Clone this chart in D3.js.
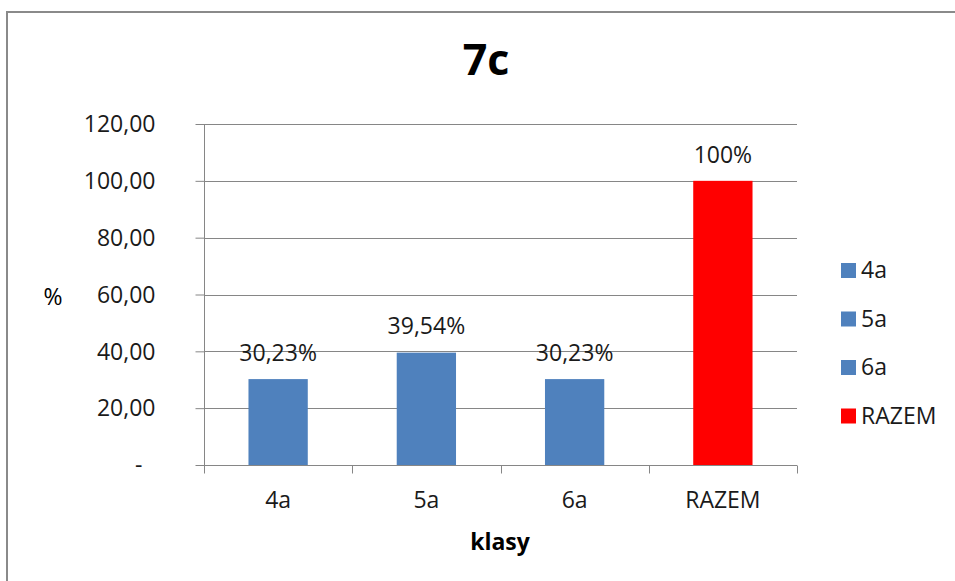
<!DOCTYPE html>
<html>
<head>
<meta charset="utf-8">
<script src="https://cdn.jsdelivr.net/npm/d3@7"></script>
<style>
  html, body { margin: 0; padding: 0; background: #fff; }
  svg { display: block; font-family: "Open Sans", "Noto Sans", sans-serif; }
</style>
</head>
<body>
<svg id="chart" width="955" height="581"></svg>
<script>
// Share of pupils per class, with the total
const categories = ["4a", "5a", "6a", "RAZEM"];
const values = [30.23, 39.54, 30.23, 100];
const valueLabels = ["30,23%", "39,54%", "30,23%", "100%"];
const yTicks = [0, 20, 40, 60, 80, 100, 120];
const legendItems = ["4a", "5a", "6a", "RAZEM"];
const colors = ["#4F81BD", "#4F81BD", "#4F81BD", "#FF0000"];

const svg = d3.select("#chart");
const fs = 23;

// outer frame (open on the right and bottom)
svg.append("path")
  .attr("d", "M7,581 V12 H955")
  .attr("fill", "none")
  .attr("stroke", "#8a8a8a")
  .attr("stroke-width", 2);

const margin = { left: 204, right: 797, top: 124, bottom: 465 };

const x = d3.scaleBand()
  .domain(categories)
  .range([margin.left, margin.right])
  .paddingInner(0.6)
  .paddingOuter(0.3);

const xOuter = d3.scaleBand()
  .domain(categories)
  .range([margin.left, margin.right]);

const y = d3.scaleLinear()
  .domain([0, 120])
  .range([margin.bottom, margin.top]);

const gridColor = "#868686";

// horizontal gridlines
svg.append("g")
  .selectAll("line")
  .data(yTicks.filter(d => d > 0))
  .join("line")
  .attr("x1", margin.left)
  .attr("x2", margin.right)
  .attr("y1", d => Math.round(y(d)) + 0.5)
  .attr("y2", d => Math.round(y(d)) + 0.5)
  .attr("stroke", gridColor)
  .attr("stroke-width", 1);

// y axis
const fmt = d => d === 0 ? "-" : d3.format(".2f")(d).replace(".", ",");
const yAxis = svg.append("g")
  .attr("transform", `translate(${margin.left + 0.5},0)`)
  .call(d3.axisLeft(y).tickValues(yTicks).tickSize(9).tickPadding(40).tickFormat(fmt));
yAxis.select(".domain").attr("stroke", gridColor).attr("d", `M0,${margin.top}V${margin.bottom}`);
yAxis.selectAll(".tick line").attr("stroke", gridColor);
yAxis.selectAll(".tick text")
  .attr("fill", "#1a1a1a")
  .attr("font-size", fs)
  .attr("dy", "0.34em")
  .attr("dx", d => d === 0 ? -13 : 0)
  .attr("font-family", "'Open Sans', sans-serif");

// x axis with ticks between categories
const xAxisG = svg.append("g").attr("transform", `translate(0,${Math.round(y(0)) + 0.5})`);
xAxisG.append("line")
  .attr("x1", margin.left).attr("x2", margin.right)
  .attr("stroke", gridColor);
const boundaries = categories.map(c => xOuter(c)).concat([margin.right]);
xAxisG.selectAll("line.tk")
  .data(boundaries)
  .join("line")
  .attr("class", "tk")
  .attr("x1", d => Math.round(d) + 0.5)
  .attr("x2", d => Math.round(d) + 0.5)
  .attr("y1", 0).attr("y2", 8)
  .attr("stroke", gridColor);
xAxisG.selectAll("text")
  .data(categories)
  .join("text")
  .attr("x", d => xOuter(d) + xOuter.bandwidth() / 2)
  .attr("y", 35)
  .attr("dy", "0.34em")
  .attr("text-anchor", "middle")
  .attr("font-size", fs)
  .attr("fill", "#1a1a1a")
  .text(d => d);

// bars
svg.append("g")
  .selectAll("rect")
  .data(categories)
  .join("rect")
  .attr("x", d => x(d))
  .attr("width", x.bandwidth())
  .attr("y", (d, i) => y(values[i]))
  .attr("height", (d, i) => y(0) - y(values[i]))
  .attr("fill", (d, i) => colors[i]);

// value labels
svg.append("g")
  .selectAll("text")
  .data(categories)
  .join("text")
  .attr("x", d => x(d) + x.bandwidth() / 2)
  .attr("y", (d, i) => y(values[i]) - 26)
  .attr("dy", "0.34em")
  .attr("text-anchor", "middle")
  .attr("font-size", fs)
  .attr("fill", "#1a1a1a")
  .text((d, i) => valueLabels[i]);

// title
svg.append("text")
  .attr("x", 486)
  .attr("y", 60)
  .attr("dy", "0.36em")
  .attr("text-anchor", "middle")
  .attr("font-size", 43)
  .attr("font-weight", "bold")
  .attr("fill", "#000")
  .text("7c");

// axis titles
svg.append("text")
  .attr("x", 500)
  .attr("y", 542)
  .attr("dy", "0.34em")
  .attr("text-anchor", "middle")
  .attr("font-size", fs)
  .attr("font-weight", "bold")
  .attr("fill", "#000")
  .text("klasy");

svg.append("text")
  .attr("x", 53)
  .attr("y", 297)
  .attr("dy", "0.34em")
  .attr("text-anchor", "middle")
  .attr("font-size", fs)
  .attr("fill", "#000")
  .text("%");

// legend
const legend = svg.append("g")
  .selectAll("g")
  .data(legendItems)
  .join("g")
  .attr("transform", (d, i) => `translate(841,${270 + i * 48.5})`);
legend.append("rect")
  .attr("x", 0).attr("y", -7)
  .attr("width", 15).attr("height", 15)
  .attr("fill", (d, i) => colors[i]);
legend.append("text")
  .attr("x", 20)
  .attr("y", 0)
  .attr("dy", "0.36em")
  .attr("font-size", fs)
  .attr("fill", "#1a1a1a")
  .text(d => d);
</script>
</body>
</html>
